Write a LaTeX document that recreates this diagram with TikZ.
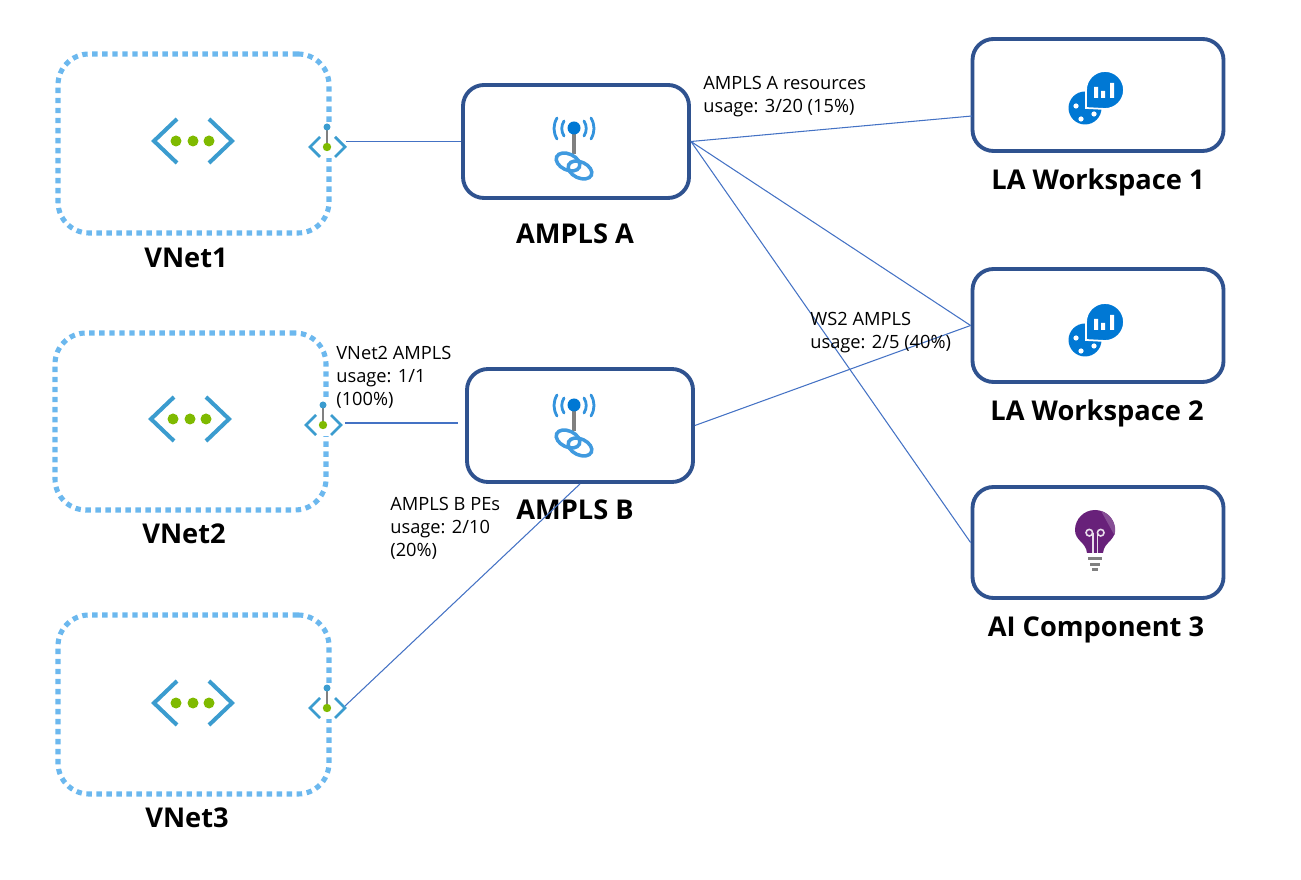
\documentclass[tikz,border=0pt]{standalone}
\usepackage{fontspec}
\setmainfont{Open Sans}
\usetikzlibrary{positioning}
\definecolor{boxblue}{RGB}{47, 82, 143}
\definecolor{linkblue}{RGB}{68, 114, 196}
\definecolor{dotblue}{RGB}{108, 184, 238}
\definecolor{vnetblue}{RGB}{59, 156, 207}
\definecolor{vnetgreen}{RGB}{127, 186, 0}
\definecolor{azureblue}{RGB}{0, 120, 212}
\definecolor{bulbpurple}{RGB}{104, 33, 122}
\tikzset{
    resbox/.style={rectangle, draw=boxblue, line width=2.2pt, rounded corners=0.42cm, minimum width=4.52cm, minimum height=2.26cm},
    vnetbox/.style={rectangle, draw=dotblue, line width=2.9pt, dash pattern=on 3.1pt off 2.6pt, rounded corners=0.62cm, minimum width=5.42cm, minimum height=3.58cm},
    title/.style={font=\fontsize{15.5}{18}\selectfont\bfseries},
    usage/.style={anchor=west, align=left, inner sep=0pt, font=\fontsize{10.4}{13}\selectfont},
    line/.style={draw=linkblue, line width=0.6pt},
    vnetbig/.pic={
        \begin{scope}[x=0.2mm, y=-0.2mm]
        \draw[vnetblue, line width=2.3pt] (-16,-22) -- (-39,0) -- (-16,22);
        \draw[vnetblue, line width=2.3pt] (16,-22) -- (39,0) -- (16,22);
        \foreach \dx in {-17,0,16} \fill[vnetgreen] (\dx,0) circle (5.5);
        \end{scope}
    },
    peicon/.pic={
        \begin{scope}[x=0.2mm, y=-0.2mm]
        \fill[white] (-22,-25) rectangle (21,11);
        \draw[gray, line width=1.6pt] (0,-20) -- (0,0);
        \draw[vnetblue, line width=1.6pt] (-7,-10) -- (-17,0) -- (-7,10);
        \draw[vnetblue, line width=1.6pt] (8,-10) -- (18,0) -- (8,10);
        \fill[vnetblue] (0,-20) circle (3.5);
        \fill[vnetgreen] (0,0) circle (4.2);
        \end{scope}
    },
    amplsicon/.pic={
        \begin{scope}[x=0.2mm, y=-0.2mm]
        \draw[gray, line width=2.2pt] (0,0) -- (0,26);
        \fill[azureblue] (0,0) circle (6.5);
        \foreach \sx in {-1,1} {
            \draw[azureblue!80, line width=1.6pt, line cap=round] (\sx*10,-7) .. controls (\sx*13,-2) and (\sx*13,3) .. (\sx*10,8);
            \draw[azureblue!80, line width=1.6pt, line cap=round] (\sx*17,-10) .. controls (\sx*21,-3) and (\sx*21,4) .. (\sx*17,11);
        }
        \draw[azureblue!75, line width=2pt, rotate around={-25:(-6,34)}] (-6,34) ellipse (12.5 and 8);
        \draw[azureblue!75, line width=2pt, rotate around={-25:(6,42)}] (6,42) ellipse (12.5 and 8);
        \end{scope}
    },
    laicon/.pic={
        \begin{scope}[x=0.2mm, y=-0.2mm]
        \fill[azureblue] (-20,18) circle (16.5);
        \fill[white] (-29,16) circle (2.6) (-24,29) circle (2.6) (-11,24) circle (2.6);
        \draw[white, line width=1pt, fill=azureblue] (-19,18) -- (-19,0) arc (180:450:19) -- cycle;
        \fill[white] (-11,-3) rectangle (-7,8) (-4,1) rectangle (0,8) (5,-7) rectangle (9,8);
        \end{scope}
    },
    aiicon/.pic={
        \begin{scope}[x=0.2mm, y=-0.2mm]
        \fill[bulbpurple] (-8,23) .. controls (-9,12) and (-20,11) .. (-20,0) arc (180:360:20) .. controls (20,11) and (9,12) .. (8,23) -- cycle;
        \fill[bulbpurple!80!white] (6,-19.1) arc (287:375:20) -- cycle;
        \draw[white!85!bulbpurple, line width=0.9pt] (-2.3,23) -- (-2.3,3) (2.3,23) -- (2.3,3);
        \draw[white!85!bulbpurple, line width=0.9pt] (-5.7,2.7) circle (3.3) (5.7,2.7) circle (3.3);
        \fill[gray] (-7,27) rectangle (7,30);
        \fill[gray] (-5,33) rectangle (5,36);
        \fill[gray] (-3,38) rectangle (3,41);
        \end{scope}
    }
}
\begin{document}
\begin{tikzpicture}
    \useasboundingbox (0,0) rectangle (26.02,17.58);

    % Networks
    \node[vnetbox] (vnetone) at (3.87,14.71) {};
    \node[vnetbox, minimum height=3.54cm] (vnettwo) at (3.81,9.15) {};
    \node[vnetbox] (vnetthree) at (3.87,3.49) {};
    \pic at (3.86,14.76) {vnetbig};
    \pic at (3.80,9.20) {vnetbig};
    \pic at (3.86,3.52) {vnetbig};
    \pic at (6.54,14.64) {peicon};
    \pic at (6.46,9.08) {peicon};
    \pic at (6.54,3.42) {peicon};
    \coordinate (peoneout) at (6.92,14.75);
    \coordinate (petwoout) at (6.90,9.12);
    \coordinate (pethreeout) at (6.90,3.46);
    \node[title] (vnetonelabel) at (3.72,12.42) {VNet1};
    \node[title] (vnettwolabel) at (3.68,6.90) {VNet2};
    \node[title] (vnetthreelabel) at (3.74,1.22) {VNet3};

    % Private link scopes
    \node[resbox] (amplsa) at (11.52,14.75) {};
    \node[resbox] (amplsb) at (11.60,9.07) {};
    \pic at (11.48,15.02) {amplsicon};
    \pic at (11.48,9.48) {amplsicon};
    \node[title] (amplsalabel) at (11.50,12.90) {AMPLS A};
    \node[title] (amplsblabel) at (11.50,7.38) {AMPLS B};

    % Workspaces and component
    \node[resbox, minimum width=5.02cm, minimum height=2.24cm] (wsone) at (21.96,15.68) {};
    \node[resbox, minimum width=5.02cm] (wstwo) at (21.96,11.07) {};
    \node[resbox, minimum width=5.02cm, minimum height=2.22cm] (aicomp) at (21.96,6.73) {};
    \pic at (22.10,15.78) {laicon};
    \pic at (22.10,11.14) {laicon};
    \pic at (21.90,6.98) {aiicon};
    \coordinate (wsonein) at (19.44,15.26);
    \node[title] (wsonelabel) at (21.96,13.94) {LA Workspace 1};
    \node[title] (wstwolabel) at (21.94,9.32) {LA Workspace 2};
    \node[title] (aicomplabel) at (21.92,4.98) {AI Component 3};

    % Connections
    \draw[line] (peoneout) -- (peoneout -| amplsa.west);
    \draw[line, shorten >=0.14cm] (petwoout) -- (petwoout -| amplsb.west);
    \draw[line] (pethreeout) -- (amplsb.south);
    \draw[line] (amplsa.east) -- (wsonein);
    \draw[line] (amplsa.east) -- (wstwo.west);
    \draw[line] (amplsa.east) -- (aicomp.west);
    \draw[line] (amplsb.east) -- (wstwo.west);

    % Usage notes
    \node[usage] (usagea) at (14.06,15.64) {AMPLS A resources\\usage: 3/20 (15\%)};
    \node[usage] (usagews) at (16.20,10.92) {WS2 AMPLS\\usage: 2/5 (40\%)};
    \node[usage] (usagevnet) at (6.72,10.04) {VNet2 AMPLS\\usage: 1/1\\(100\%)};
    \node[usage] (usageb) at (7.80,7.02) {AMPLS B PEs\\usage: 2/10\\(20\%)};
\end{tikzpicture}
\end{document}
